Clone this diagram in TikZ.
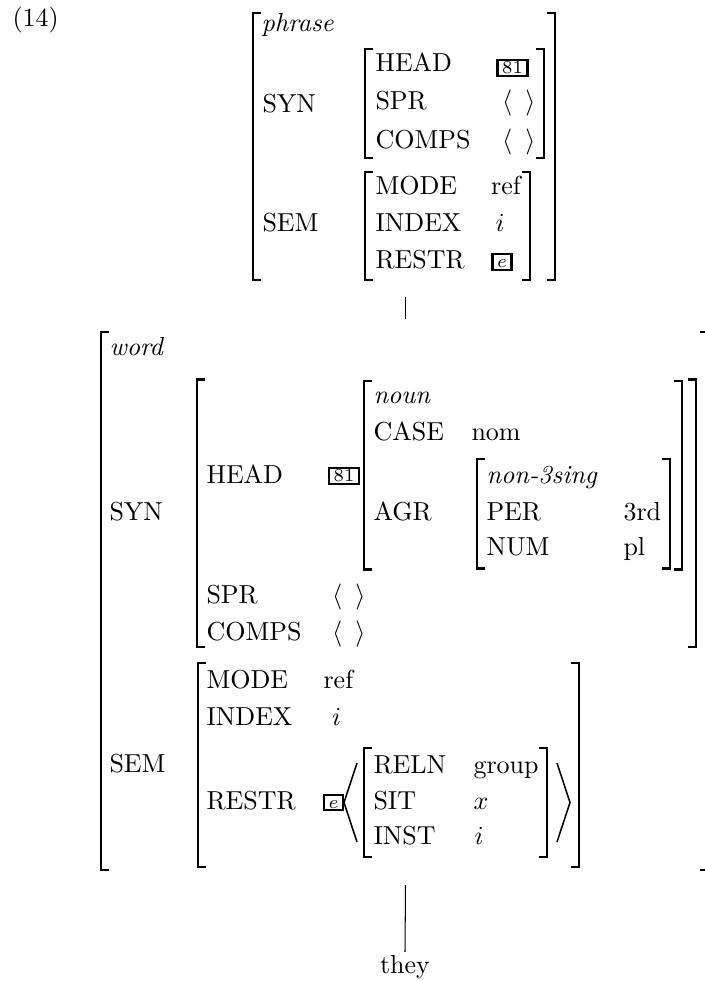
\documentclass[tikz,border=0pt]{standalone}

\begin{document}
\begin{tikzpicture}[x=0.3846pt, y=-0.3846pt,
  brk/.style={line width=0.8pt},
  ang/.style={line width=0.6pt},
  branch/.style={line width=0.4pt},
  lab/.style={anchor=base west, inner sep=0pt},
  tag/.style={draw, line width=0.9pt, font=\scriptsize, inner xsep=1.8pt,
    inner ysep=0.7pt, text height=4.6pt, text depth=0pt}]
  \useasboundingbox (0,0) rectangle (704,981);

  % square brackets: left x / right x / top y / bottom y
  \foreach \l/\r/\t/\b in {252.7/555/13/280, 365/544/49/158, 365/530/172/280,
      100.7/708/332/870, 197.3/696/379.5/647, 364/681.7/381/569.5,
      476.7/670/459/568.5, 198/579/663/867, 364/547/748/857} {
    \draw[brk] ({\l+8},\t) -- (\l,\t) -- (\l,\b) -- ({\l+8},\b);
    \draw[brk] ({\r-8},\t) -- (\r,\t) -- (\r,\b) -- ({\r-8},\b);
  }

  % phrase
  \node[lab] (num) at (12,27) {(14)};
  \foreach \n/\x/\y/\t in {phr/261/32/{\textit{phrase}}, psyn/262/112/SYN,
      phead/375/72/HEAD, pspr/375/110/SPR, pcomps/375/148/COMPS,
      psem/262/232/SEM, pmode/375/195/MODE, pindex/375/232/INDEX,
      prestr/375/268/RESTR, pref/490.7/195/ref,
      psprv/501.7/110/{$\langle\ \,\rangle$}, pcompsv/501.7/148/{$\langle\ \,\rangle$}} {
    \node[lab] (\n) at (\x,\y) {\t};
  }
  \node[anchor=base, inner sep=0pt] (pidx) at (500,232) {$i$};
  \node[tag] (ptag) at (512.5,68) {81};
  \node[tag] (pres) at (502,262) {$e$};

  % word
  \foreach \n/\x/\y/\t in {wrd/109/355/{\textit{word}}, wsyn/109/520/SYN,
      whead/206/483/HEAD, wnoun/373/403/{\textit{noun}},
      wcase/373/440/CASE, wnom/471/440/nom, wagr/373/520/AGR,
      wtype/486/483/{\textit{non-3sing}}, wper/486/520/PER, wthird/623/520/3rd,
      wnum/486/555/NUM, wpl/623/555/pl,
      wspr/206/603/SPR, wsprv/331.7/603/{$\langle\ \,\rangle$},
      wcomps/206/640/COMPS, wcompsv/331.7/640/{$\langle\ \,\rangle$},
      wsem/109/772/SEM, wmode/206/688/MODE, wref/323/688/ref,
      windex/206/725/INDEX, wrestr/206/809/RESTR,
      wreln/373/773/RELN, wgroup/473/773/group,
      wsit/373/809/SIT, wsitv/473/809/{$x$},
      winst/373/844/INST, winstv/474/844/{$i$}} {
    \node[lab] (\n) at (\x,\y) {\t};
  }
  \node[anchor=base, inner sep=0pt] (widx) at (336.7,725) {$i$};
  \node[tag] (wtag) at (344,476) {81};
  \node[tag] (wres) at (333.5,802.5) {$e$};
  \draw[ang] (357,763) -- (344,802.5) -- (357,842);
  \draw[ang] (557,763) -- (570,802.5) -- (557,842);

  % tree
  \node[anchor=base, inner sep=1pt] (they) at (405,973) {they};
  \coordinate (phrfoot) at (405.5,297);
  \coordinate (wrdtop) at (405.5,319);
  \coordinate (wrdfoot) at (405.5,885);
  \draw[branch] (phrfoot) -- (wrdtop);
  \draw[branch] (wrdfoot) -- (they.north);
\end{tikzpicture}
\end{document}
